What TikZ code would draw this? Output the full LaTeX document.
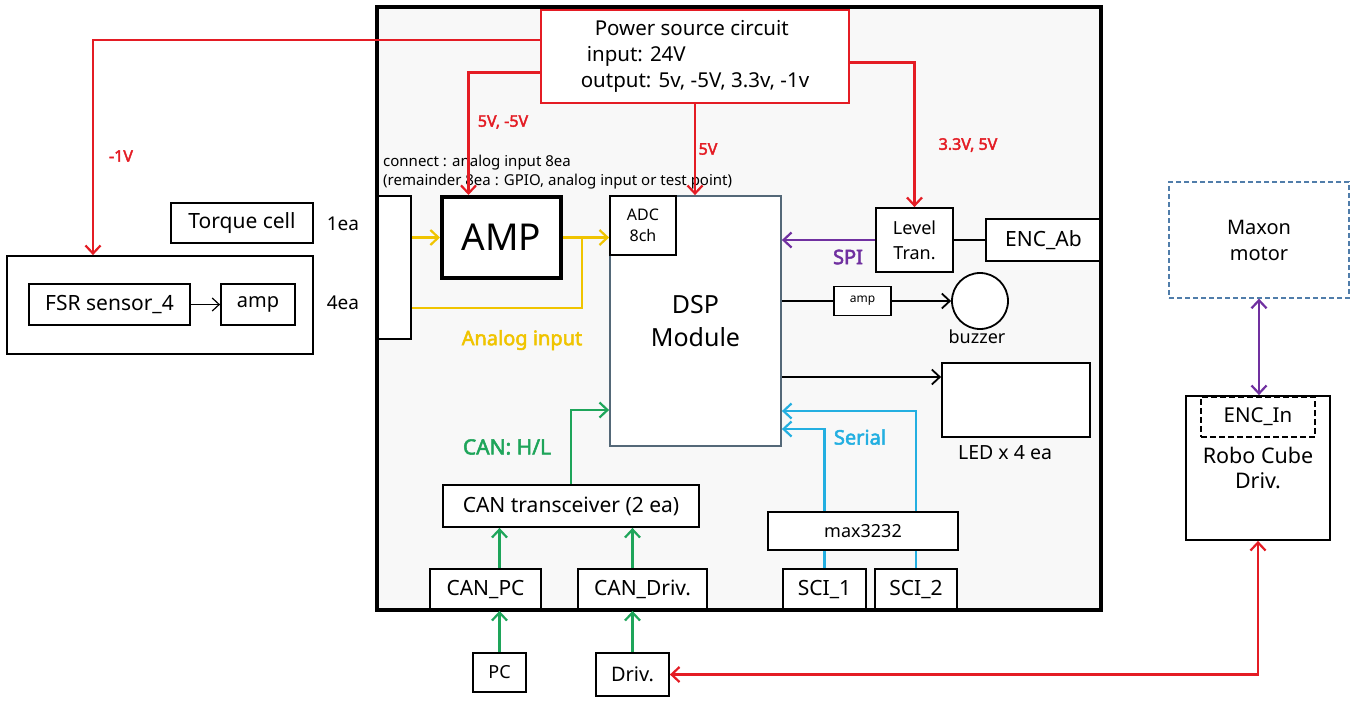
\documentclass[tikz,border=0pt]{standalone}
\usepackage{fontspec}
\setmainfont{Noto Sans}
\newfontfamily\boldlbl{Noto Sans}[FakeBold=2.5]
\usepackage{tikz}
\usetikzlibrary{arrows.meta}

\definecolor{pwrred}{RGB}{228,28,36}
\definecolor{anayel}{RGB}{240,196,0}
\definecolor{cangrn}{RGB}{30,165,90}
\definecolor{sercyn}{RGB}{35,175,225}
\definecolor{spipur}{RGB}{112,48,160}
\definecolor{dspgray}{RGB}{84,104,120}
\definecolor{mtrblue}{RGB}{80,125,170}
\definecolor{boardbg}{RGB}{248,248,248}
\newcommand{\fsz}[2]{\fontsize{#1}{#2}\selectfont}

\begin{document}
\begin{tikzpicture}[x=1pt,y=-1pt,
    box/.style={draw, line width=1.8pt, fill=white, inner sep=0pt, align=center, font=\fsz{21}{26}},
    tip/.style={-{Straight Barb[length=8pt,width=15pt]}},
    dtip/.style={{Straight Barb[length=8pt,width=15pt]}-{Straight Barb[length=8pt,width=15pt]}},
    pwr/.style={pwrred, line width=2.2pt},
    ana/.style={anayel, line width=2.2pt},
    canl/.style={cangrn, line width=2.2pt},
    ser/.style={sercyn, line width=2.2pt},
    spi/.style={spipur, line width=2.2pt},
    wire/.style={black, line width=1.8pt},
    volt/.style={text=pwrred, font=\boldlbl\fsz{16}{20}},
    lbl/.style={font=\boldlbl\fsz{20}{24}}]

    \useasboundingbox (0,0) rectangle (1355,702);

    %Board
    \fill[boardbg] (377,7) rectangle (1101,610);

    %Power source
    \node[box, draw=pwrred, minimum width=308pt, minimum height=93pt, align=left, font=\fsz{20.5}{26}] (power) at (695,56.5)
        {\hspace*{14pt}Power source circuit\\\hspace*{6pt}input: 24V\\output: 5v, -5V, 3.3v, -1v};

    %Sensors
    \node[box, minimum width=142pt, minimum height=40pt] (torque) at (242,223) {Torque cell};
    \node[box, minimum width=306pt, minimum height=98pt] (fsrbox) at (160,305) {};
    \node[box, minimum width=161pt, minimum height=41pt] (fsr) at (109.5,304.5) {FSR sensor\_4};
    \node[box, minimum width=74pt, minimum height=41pt, font=\fsz{20}{24}] (famp) at (258,304.5) {amp};
    \node[font=\fsz{19}{23}] (ea1) at (343,224) {1ea};
    \node[font=\fsz{19}{23}] (ea4) at (343,303) {4ea};
    \draw[line width=1.2pt, -{Straight Barb[length=7pt,width=13pt]}] (fsr.east) -- (famp.west);

    %Analog part
    \node[anchor=west, align=left, inner sep=0pt, font=\fsz{15}{19}] (conntxt) at (383,172)
        {connect : analog input 8ea\\(remainder 8ea : GPIO, analog input or test point)};
    \node[box, minimum width=33pt, minimum height=143pt] (conn) at (394.5,267.5) {};
    \node[box, line width=4pt, minimum width=119pt, minimum height=81pt, font=\fsz{37}{40}] (amp) at (501.5,237.5) {AMP};

    %DSP
    \node[box, draw=dspgray, minimum width=171pt, minimum height=250pt, font=\fsz{25}{33}] (dsp) at (695.5,321) {DSP\\Module};
    \node[box, minimum width=66pt, minimum height=59pt, font=\fsz{16}{21}] (adc) at (643,225.5) {ADC\\8ch};

    %Right side of board
    \node[box, minimum width=77pt, minimum height=64pt, font=\fsz{18}{25}] (level) at (914.5,240) {Level\\Tran.};
    \node[box, minimum width=115pt, minimum height=42pt] (encab) at (1043.5,240) {ENC\_Ab};
    \node[box, minimum width=57pt, minimum height=29pt, font=\fsz{12}{14}] (amp2) at (862.5,301) {amp};
    \node[circle, draw, line width=1.8pt, fill=white, minimum size=56pt, inner sep=0pt] (buzz) at (980,301) {};
    \node[font=\fsz{18}{22}] (buzztxt) at (977,337) {buzzer};
    \node[box, minimum width=148pt, minimum height=74pt] (led) at (1016,400) {};
    \node[font=\fsz{19.5}{23}] (ledtxt) at (1005,453) {LED x 4 ea};

    %Bottom of board
    \node[box, minimum width=256pt, minimum height=42pt] (cantr) at (571,506) {CAN transceiver (2 ea)};
    \node[box, minimum width=111pt, minimum height=41pt] (canpc) at (485.5,589.5) {CAN\_PC};
    \node[box, minimum width=129pt, minimum height=41pt] (candrv) at (642.5,589.5) {CAN\_Driv.};
    \node[box, minimum width=190pt, minimum height=38pt, font=\fsz{18}{22}] (max) at (863,531) {max3232};
    \node[box, minimum width=83pt, minimum height=41pt] (sci1) at (824.5,589.5) {SCI\_1};
    \node[box, minimum width=82pt, minimum height=41pt] (sci2) at (916,589.5) {SCI\_2};
    \node[box, minimum width=53pt, minimum height=39pt, font=\fsz{18}{22}] (pc) at (499.5,672.5) {PC};
    \node[box, minimum width=73pt, minimum height=43pt, font=\fsz{20}{24}] (drv) at (632.5,674.5) {Driv.};

    %Motor side
    \node[box, draw=mtrblue, line width=1.3pt, dash pattern=on 5pt off 3pt, minimum width=180pt, minimum height=116pt, font=\fsz{20}{26}] (maxon) at (1259,240) {Maxon\\motor};
    \node[box, minimum width=144pt, minimum height=144pt, font=\fsz{21.5}{25}] (robo) at (1258,468) {Robo Cube\\Driv.};
    \node[box, dash pattern=on 6pt off 3pt, minimum width=114pt, minimum height=40pt, font=\fsz{20.5}{24}] (encin) at (1258,417) {ENC\_In};

    %Board frame
    \draw[line width=4pt] (377,7) rectangle (1101,610);

    %Power rails
    \draw[pwr, tip] ([yshift=16.5pt]power.west) -| ([xshift=-67pt]fsrbox.north);
    \draw[pwr, tip] ([yshift=-16pt]power.west) -| ([xshift=-33pt]amp.north);
    \draw[pwr, tip] (power.south) -- (power.south |- dsp.north);
    \draw[pwr, tip] ([yshift=-6pt]power.east) -| (level.north);
    \draw[pwr, dtip] (drv.east) -| (robo.south);
    \node[volt] (vm1) at (121,156) {-1V};
    \node[volt] (v55) at (503,122) {5V, -5V};
    \node[volt] (v5) at (708,149) {5V};
    \node[volt] (v33) at (968,145) {3.3V, 5V};

    %Analog input
    \coordinate (ajoin) at (582,237.5);
    \draw[ana, tip] (conn.east |- amp.west) -- (amp.west);
    \draw[ana, tip] (amp.east) -- (amp.east -| adc.west);
    \draw[ana] ([yshift=-40.5pt]conn.east) -| (ajoin);
    \node[lbl, text=anayel] (analbl) at (522,340) {Analog input};

    %SPI and outputs
    \coordinate (ledin) at ([yshift=23pt]led.west);
    \draw[spi, tip] (level.west) -- (level.west -| dsp.east);
    \draw[wire] (level.east) -- (encab.west);
    \draw[wire] (dsp.east |- amp2.west) -- (amp2.west);
    \draw[wire, tip] (amp2.east) -- (buzz.west);
    \draw[wire, tip] (dsp.east |- ledin) -- (ledin);
    \node[lbl, text=spipur] (spilbl) at (848,257) {SPI};

    %CAN
    \draw[canl, tip] (cantr.north) |- ([yshift=-89pt]dsp.west);
    \draw[canl, tip] (pc.north) -- (pc.north |- canpc.south);
    \draw[canl, tip] (pc.north |- canpc.north) -- (pc.north |- cantr.south);
    \draw[canl, tip] (drv.north) -- (drv.north |- candrv.south);
    \draw[canl, tip] (drv.north |- candrv.north) -- (drv.north |- cantr.south);
    \node[lbl, text=cangrn, font=\boldlbl\fsz{21}{24}] (canlbl) at (507,447) {CAN: H/L};

    %Serial
    \draw[ser] (sci1.north) -- (sci1.north |- max.south);
    \draw[ser] (sci2.north) -- (sci2.north |- max.south);
    \draw[ser, tip] (sci1.north |- max.north) |- ([yshift=-108pt]dsp.east);
    \draw[ser, tip] (sci2.north |- max.north) |- ([yshift=-90pt]dsp.east);
    \node[lbl, text=sercyn] (serlbl) at (860,437) {Serial};

    %Motor link
    \draw[spi, dtip] (maxon.south) -- (maxon.south |- robo.north);

\end{tikzpicture}
\end{document}
